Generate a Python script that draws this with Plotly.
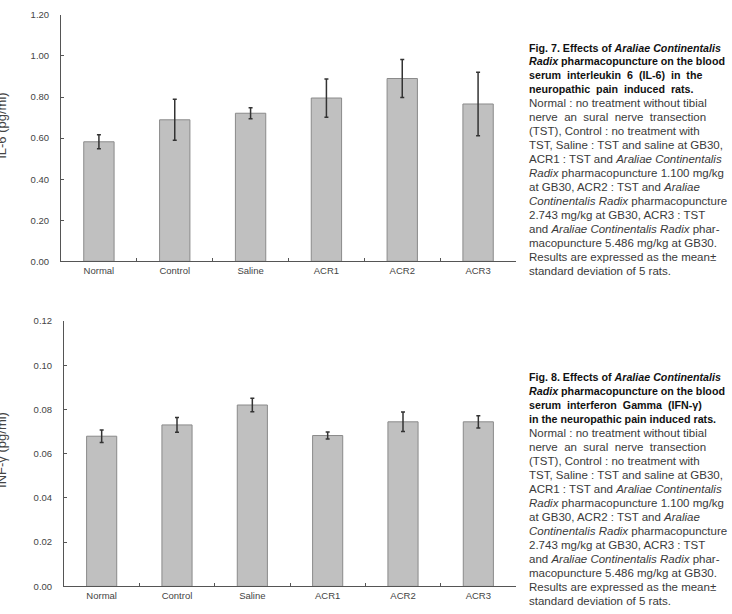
import plotly.graph_objects as go

W, H = 732, 614

categories = ["Normal", "Control", "Saline", "ACR1", "ACR2", "ACR3"]
il6_mean = [0.582, 0.689, 0.721, 0.795, 0.890, 0.766]
il6_sd = [0.034, 0.100, 0.027, 0.093, 0.093, 0.155]
ifn_mean = [0.0679, 0.0730, 0.0820, 0.0682, 0.0744, 0.0744]
ifn_sd = [0.0028, 0.0033, 0.0031, 0.0016, 0.0044, 0.0028]

il6_ticks = [0.0, 0.2, 0.4, 0.6, 0.8, 1.0, 1.2]
ifn_ticks = [0.0, 0.02, 0.04, 0.06, 0.08, 0.10, 0.12]

cap7 = [
    "<b>Fig. 7. Effects of <i>Araliae Continentalis</i></b>",
    "<b><i>Radix</i> pharmacopuncture on the blood</b>",
    "<b>serum  interleukin  6  (IL-6)  in  the</b>",
    "<b>neuropathic  pain  induced  rats.</b>",
    "Normal : no treatment without tibial",
    "nerve  an  sural  nerve  transection",
    "(TST), Control : no treatment with",
    "TST, Saline : TST and saline at GB30,",
    "ACR1 : TST and <i>Araliae Continentalis</i>",
    "<i>Radix</i> pharmacopuncture 1.100 mg/kg",
    "at GB30, ACR2 : TST and <i>Araliae</i>",
    "<i>Continentalis Radix</i> pharmacopuncture",
    "2.743 mg/kg at GB30, ACR3 : TST",
    "and <i>Araliae Continentalis Radix</i> phar-",
    "macopuncture 5.486 mg/kg at GB30.",
    "Results are expressed as the mean±",
    "standard deviation of 5 rats.",
]
cap8 = [
    "<b>Fig. 8. Effects of <i>Araliae Continentalis</i></b>",
    "<b><i>Radix</i> pharmacopuncture on the blood</b>",
    "<b>serum  interferon  Gamma  (IFN-γ)</b>",
    "<b>in the neuropathic pain induced rats.</b>",
    "Normal : no treatment without tibial",
    "nerve  an  sural  nerve  transection",
    "(TST), Control : no treatment with",
    "TST, Saline : TST and saline at GB30,",
    "ACR1 : TST and <i>Araliae Continentalis</i>",
    "<i>Radix</i> pharmacopuncture 1.100 mg/kg",
    "at GB30, ACR2 : TST and <i>Araliae</i>",
    "<i>Continentalis Radix</i> pharmacopuncture",
    "2.743 mg/kg at GB30, ACR3 : TST",
    "and <i>Araliae Continentalis Radix</i> phar-",
    "macopuncture 5.486 mg/kg at GB30.",
    "Results are expressed as the mean±",
    "standard deviation of 5 rats.",
]

bar_style = dict(marker=dict(color="#c0c0c0", line=dict(color="#8a8a8a", width=1)), width=0.4)
err_style = dict(type="data", color="#333333", thickness=1.5, width=2)

fig = go.Figure()
fig.add_trace(go.Bar(x=categories, y=il6_mean, error_y=dict(array=il6_sd, **err_style),
                     xaxis="x", yaxis="y", **bar_style))
fig.add_trace(go.Bar(x=categories, y=ifn_mean, error_y=dict(array=ifn_sd, **err_style),
                     xaxis="x2", yaxis="y2", **bar_style))

tickfont = dict(family="Liberation Sans, Arial, sans-serif", size=9.5, color="#444444")
axcol = "#555555"

def px(xp):
    return xp / W

def py(yp):
    return 1 - yp / H

xcommon = dict(type="category", range=[-0.5, 5.5], showline=True, linecolor=axcol, linewidth=1,
               ticks="inside", ticklen=3, tickcolor=axcol, tickson="boundaries",
               showgrid=False, tickfont=tickfont, zeroline=False)
ycommon = dict(showline=True, linecolor=axcol, linewidth=1, ticks="inside", ticklen=3,
               tickcolor=axcol, showgrid=False, zeroline=False, tickfont=tickfont,
               ticklabelstandoff=9)

fig.update_layout(
    width=W, height=H,
    margin=dict(l=0, r=0, t=0, b=0),
    paper_bgcolor="white", plot_bgcolor="white",
    showlegend=False,
    xaxis=dict(domain=[px(61), px(516)], anchor="y", **xcommon),
    yaxis=dict(domain=[py(260), py(9)], anchor="x", range=[0, 1.2],
               tickvals=il6_ticks, ticktext=[f"{v:.2f}" for v in il6_ticks], **ycommon),
    xaxis2=dict(domain=[px(64), px(516)], anchor="y2", **xcommon),
    yaxis2=dict(domain=[py(591), py(320.7)], anchor="x2", range=[0, 0.12],
                tickvals=ifn_ticks, ticktext=[f"{v:.2f}" for v in ifn_ticks], **ycommon),
)

ann = []
ann.append(dict(text="IL-6 (pg/ml)", x=px(2), y=py(122), xref="paper", yref="paper",
                textangle=-90, showarrow=False, xanchor="center", yanchor="middle",
                font=dict(family="Liberation Sans, Arial, sans-serif", size=13, color="#444444")))
ann.append(dict(text="INF-γ (pg/ml)", x=px(2), y=py(452), xref="paper", yref="paper",
                textangle=-90, showarrow=False, xanchor="center", yanchor="middle",
                font=dict(family="Liberation Sans, Arial, sans-serif", size=13, color="#444444")))

for cap, y0, y1 in ((cap7, 42.3, 269.5), (cap8, 378.0, 606.0)):
    step = (y1 - y0) / (len(cap) - 1)
    for i, line in enumerate(cap):
        bold = line.startswith("<b>")
        font = dict(family="Liberation Sans, Arial, sans-serif",
                    size=10.7 if bold else 11.5,
                    color="#111111" if bold else "#3a3a3a")
        ann.append(dict(text=line, x=px(527), y=py(y0 + i * step), xref="paper", yref="paper",
                        showarrow=False, xanchor="left", yanchor="middle", font=font))

fig.update_layout(annotations=ann)
fig.write_html("out.html")
